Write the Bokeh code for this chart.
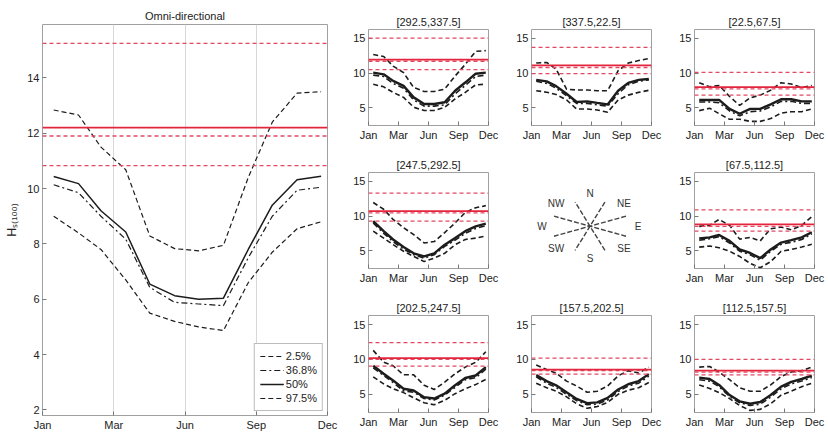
import numpy as np
from bokeh.plotting import figure
from bokeh.models import Span, Legend, LegendItem, FixedTicker, Range1d
from bokeh.layouts import row, column
from bokeh.core.properties import value
from bokeh.embed import file_html
from bokeh.resources import INLINE

# ---------------- data ----------------
days = [15, 46, 74, 105, 135, 166, 196, 227, 258, 288, 319, 349]   # mid-month day of year
month_labels = ["Jan", "Mar", "Jun", "Sep", "Dec"]
quantile_labels = ["2.5%", "36.8%", "50%", "97.5%"]

# Omni-directional
omni_p025 = [9.0, 8.4, 7.8, 6.7, 5.5, 5.2, 5.0, 4.87, 6.6, 7.7, 8.55, 8.8]
omni_p368 = [10.14, 9.85, 9.0, 8.17, 6.43, 5.89, 5.83, 5.77, 7.5, 9.0, 9.94, 10.05]
omni_p50 = [10.44, 10.18, 9.2, 8.43, 6.55, 6.13, 6.0, 6.04, 7.8, 9.4, 10.32, 10.45]
omni_p975 = [12.84, 12.66, 11.5, 10.68, 8.29, 7.83, 7.75, 7.95, 10.4, 12.4, 13.45, 13.5]
omni_red_solid = 12.2
omni_red_dashed = [15.25, 11.9, 10.83]

# [292.5,337.5]
nw_p025 = [8.38, 8.0, 7.19, 6.47, 5.05, 4.57, 4.57, 5.05, 6.24, 7.19, 8.29, 8.38]
nw_p368 = [9.7, 9.5, 8.5, 7.8, 6.1, 5.2, 5.2, 5.4, 7.0, 8.2, 9.5, 9.7]
nw_p50 = [10.05, 9.81, 8.86, 8.14, 6.47, 5.52, 5.52, 5.76, 7.43, 8.62, 9.9, 10.05]
nw_p975 = [12.67, 12.4, 11.0, 10.05, 7.9, 7.33, 7.33, 7.67, 9.57, 11.24, 13.14, 13.24]
nw_red_solid = 11.95
nw_red_dashed = [15.05, 11.7, 10.5]

# [337.5,22.5]
n_p025 = [7.44, 7.22, 6.9, 6.1, 4.78, 4.78, 4.64, 4.33, 6.1, 6.8, 7.2, 7.5]
n_p368 = [8.8, 8.5, 7.8, 6.7, 5.6, 5.6, 5.4, 5.2, 7.0, 8.3, 8.8, 9.0]
n_p50 = [9.0, 8.78, 8.1, 7.0, 5.8, 5.9, 5.67, 5.44, 7.44, 8.56, 9.0, 9.13]
n_p975 = [11.44, 11.53, 10.56, 7.67, 7.53, 7.53, 7.44, 7.44, 10.33, 11.44, 11.8, 12.1]
n_red_solid = 11.1
n_red_dashed = [13.7, 10.8, 9.9]

# [22.5,67.5]
ne_p025 = [4.55, 4.9, 4.1, 3.3, 3.3, 3.0, 3.0, 3.4, 4.2, 4.4, 4.4, 4.8]
ne_p368 = [5.8, 5.8, 5.7, 4.5, 3.8, 4.4, 4.5, 5.1, 5.9, 5.9, 5.6, 5.6]
ne_p50 = [6.1, 6.1, 6.1, 4.8, 4.1, 4.8, 4.8, 5.45, 6.2, 6.2, 5.9, 5.9]
ne_p975 = [8.6, 8.0, 8.2, 6.6, 5.3, 6.4, 6.8, 7.5, 8.6, 8.4, 7.9, 8.2]
ne_red_solid = 7.95
ne_red_dashed = [10.1, 7.7, 6.8]

# [247.5,292.5]
w_p025 = [7.8, 6.8, 5.85, 4.9, 4.15, 3.4, 3.9, 4.6, 5.85, 6.6, 6.8, 7.1]
w_p368 = [9.0, 7.5, 6.3, 5.2, 4.4, 3.9, 4.4, 5.6, 6.5, 7.5, 8.2, 8.6]
w_p50 = [9.27, 7.8, 6.6, 5.5, 4.6, 4.15, 4.6, 5.85, 6.8, 7.8, 8.5, 8.9]
w_p975 = [11.95, 10.98, 9.5, 8.3, 7.3, 6.1, 6.3, 7.6, 9.0, 10.5, 11.2, 11.5]
w_red_solid = 10.7
w_red_dashed = [13.3, 10.45, 9.27]

# [67.5,112.5]
e_p025 = [5.5, 5.65, 5.4, 4.9, 4.15, 3.15, 2.5, 3.4, 4.9, 5.15, 5.5, 5.9]
e_p368 = [6.5, 6.7, 7.0, 6.1, 4.9, 4.4, 3.6, 4.9, 5.9, 6.2, 6.6, 7.4]
e_p50 = [6.75, 6.9, 7.25, 6.4, 5.15, 4.65, 3.9, 5.15, 6.15, 6.5, 6.9, 7.65]
e_p975 = [8.5, 8.65, 9.5, 8.65, 6.65, 6.9, 6.4, 8.15, 8.4, 8.0, 8.65, 9.9]
e_red_solid = 8.8
e_red_dashed = [10.9, 8.5, 7.8]

# [202.5,247.5]
sw_p025 = [7.5, 6.5, 5.8, 5.25, 4.5, 3.8, 3.5, 4.15, 5.1, 5.8, 6.4, 7.15]
sw_p368 = [8.8, 7.7, 6.7, 5.5, 5.3, 4.4, 4.2, 4.9, 6.0, 7.1, 7.4, 8.6]
sw_p50 = [9.1, 7.95, 7.0, 5.8, 5.55, 4.6, 4.4, 5.1, 6.3, 7.35, 7.7, 8.9]
sw_p975 = [11.3, 9.6, 9.1, 7.8, 7.8, 6.3, 5.7, 6.75, 7.95, 8.9, 9.6, 11.1]
sw_red_solid = 10.2
sw_red_dashed = [12.4, 10.0, 9.05]

# [157.5,202.5]
s_p025 = [6.6, 5.95, 5.45, 4.65, 3.65, 3.0, 3.25, 3.85, 5.0, 5.6, 5.95, 6.7]
s_p368 = [7.5, 6.6, 6.0, 5.0, 4.1, 3.5, 3.6, 4.2, 5.4, 6.2, 6.6, 7.6]
s_p50 = [7.75, 6.9, 6.3, 5.3, 4.35, 3.75, 3.85, 4.5, 5.7, 6.45, 6.9, 7.9]
s_p975 = [9.2, 8.55, 8.05, 6.9, 6.2, 5.3, 5.45, 6.2, 7.65, 8.4, 8.05, 8.9]
s_red_solid = 8.55
s_red_dashed = [10.2, 8.4, 7.9]

# [112.5,157.5]
se_p025 = [6.35, 5.85, 5.25, 4.4, 3.4, 2.7, 2.85, 3.65, 4.9, 5.45, 6.1, 6.6]
se_p368 = [7.1, 6.9, 6.1, 4.7, 3.8, 3.4, 3.6, 4.6, 5.8, 6.5, 6.9, 7.4]
se_p50 = [7.4, 7.2, 6.35, 4.9, 4.0, 3.65, 3.9, 4.9, 6.1, 6.8, 7.2, 7.7]
se_p975 = [8.9, 9.0, 8.2, 7.1, 5.95, 5.45, 5.45, 6.35, 7.55, 8.2, 8.4, 8.9]
se_red_solid = 8.4
se_red_dashed = [10.0, 8.2, 7.8]

# compass
compass_labels = ["N", "NE", "E", "SE", "S", "SW", "W", "NW"]
compass_bearings = [0, 45, 90, 135, 180, 225, 270, 315]
sector_boundaries = [22.5, 67.5, 112.5, 157.5]

# ---------------- style ----------------
FONT = "Liberation Sans"
X0, X1 = 1, 357
TICKS = [int(t) for t in np.linspace(X0, X1, 5)]
BLACK = "#1c1c1c"
RED = "#e3263c"
RED_D = "#e24a64"
FRAME = "#a0a0a0"
DASH = "5 3"
DASHDOT = "6 3 2 3"


def style(p, yticks, font_size):
    p.outline_line_color = FRAME
    p.outline_line_width = 1
    p.background_fill_color = "white"
    p.border_fill_color = "white"
    p.xaxis.ticker = FixedTicker(ticks=TICKS)
    p.xaxis.major_label_overrides = {t: lab for t, lab in zip(TICKS, month_labels)}
    p.yaxis.ticker = FixedTicker(ticks=yticks)
    for ax in (p.xaxis[0], p.yaxis[0]):
        ax.axis_line_color = None
        ax.major_tick_in = 4
        ax.major_tick_out = 0
        ax.major_tick_line_color = "#777777"
        ax.minor_tick_line_color = None
        ax.major_label_text_font = FONT
        ax.major_label_text_font_size = font_size
        ax.major_label_text_color = "#222222"
        ax.major_label_standoff = 3
    p.ygrid.grid_line_color = None
    p.title.text_font = FONT
    p.title.text_font_style = "normal"
    p.title.text_color = "#222222"
    p.title.align = "center"


def add_curves(p, p025, p368, p50, p975, lw_d, lw_s):
    r1 = p.line(days, p025, line_color=BLACK, line_width=lw_d, line_dash=DASH)
    r2 = p.line(days, p368, line_color=BLACK, line_width=lw_d, line_dash=DASHDOT)
    r3 = p.line(days, p50, line_color=BLACK, line_width=lw_s)
    r4 = p.line(days, p975, line_color=BLACK, line_width=lw_d, line_dash=DASH)
    return [r1, r2, r3, r4]


def add_red(p, solid, dashed):
    for lv in dashed:
        p.add_layout(Span(location=lv, dimension="width", line_color=RED_D,
                          line_width=1.3, line_dash="4 3"))
    p.add_layout(Span(location=solid, dimension="width", line_color=RED, line_width=1.7))


# ---------------- main panel ----------------
main = figure(width=345, height=433, x_range=Range1d(X0, X1), y_range=Range1d(1.8, 15.93),
              title="Omni-directional", output_backend="svg", toolbar_location=None,
              min_border_left=42, min_border_right=18, min_border_top=24, min_border_bottom=16)
style(main, [2, 4, 6, 8, 10, 12, 14], "11px")
main.title.text_font_size = "11px"
main.title.standoff = 5
main.xgrid.grid_line_color = "#d8d8d8"
main.xgrid.grid_line_width = 1
main.yaxis.axis_label = "Hₛ₍₁₀₀₎"
main.yaxis.axis_label_text_font = FONT
main.yaxis.axis_label_text_font_size = "12.5px"
main.yaxis.axis_label_text_font_style = "normal"
main.yaxis.axis_label_text_color = "#222222"
main.yaxis.axis_label_standoff = 5
add_red(main, omni_red_solid, omni_red_dashed)
rs = add_curves(main, omni_p025, omni_p368, omni_p50, omni_p975, 1.2, 1.5)
legend = Legend(items=[LegendItem(label=l, renderers=[r]) for l, r in zip(quantile_labels, rs)],
                location="bottom_right")
legend.margin = 4
legend.padding = 5
legend.spacing = 0
legend.glyph_width = 24
legend.glyph_height = 14
legend.label_height = 14
legend.label_standoff = 2
legend.label_text_font = FONT
legend.label_text_font_size = "11px"
legend.label_text_color = "#222222"
legend.border_line_color = "#7a7a7a"
legend.border_line_width = 1
legend.background_fill_alpha = 1
main.add_layout(legend)

# ---------------- small panels ----------------
def small(title, p025, p368, p50, p975, red_solid, red_dashed, w, h, br, bb):
    p = figure(width=w, height=h, x_range=Range1d(X0, X1), y_range=Range1d(2.4, 16.3),
               title=title, output_backend="svg", toolbar_location=None,
               min_border_left=23, min_border_right=br, min_border_top=29, min_border_bottom=bb)
    style(p, [5, 10, 15], "11px")
    p.xgrid.grid_line_color = None
    p.title.text_font_size = "11px"
    p.title.standoff = 3
    add_red(p, red_solid, red_dashed)
    add_curves(p, p025, p368, p50, p975, 1.6, 2.4)
    return p


p_nw = small("[292.5,337.5]", nw_p025, nw_p368, nw_p50, nw_p975, nw_red_solid, nw_red_dashed, 163, 143, 20, 17)
p_n = small("[337.5,22.5]", n_p025, n_p368, n_p50, n_p975, n_red_solid, n_red_dashed, 163, 143, 20, 17)
p_ne = small("[22.5,67.5]", ne_p025, ne_p368, ne_p50, ne_p975, ne_red_solid, ne_red_dashed, 157, 143, 14, 17)
p_w = small("[247.5,292.5]", w_p025, w_p368, w_p50, w_p975, w_red_solid, w_red_dashed, 163, 143, 20, 17)
p_e = small("[67.5,112.5]", e_p025, e_p368, e_p50, e_p975, e_red_solid, e_red_dashed, 157, 143, 14, 17)
p_sw = small("[202.5,247.5]", sw_p025, sw_p368, sw_p50, sw_p975, sw_red_solid, sw_red_dashed, 163, 147, 20, 21)
p_s = small("[157.5,202.5]", s_p025, s_p368, s_p50, s_p975, s_red_solid, s_red_dashed, 163, 147, 20, 21)
p_se = small("[112.5,157.5]", se_p025, se_p368, se_p50, se_p975, se_red_solid, se_red_dashed, 157, 147, 14, 21)

# ---------------- compass ----------------
comp = figure(width=163, height=143, x_range=Range1d(-81.5, 81.5), y_range=Range1d(-63, 80),
              output_backend="svg", toolbar_location=None,
              min_border_left=0, min_border_right=0, min_border_top=0, min_border_bottom=0)
comp.axis.visible = False
comp.grid.grid_line_color = None
comp.outline_line_color = None
R_LINE = 39
R_TEXT = 48
ang = np.radians(sector_boundaries)
comp.segment(x0=R_LINE * np.sin(ang), y0=R_LINE * np.cos(ang),
             x1=-R_LINE * np.sin(ang), y1=-R_LINE * np.cos(ang),
             line_color="#444444", line_width=1.4, line_dash="5 2")
bang = np.radians(compass_bearings)
comp.text(x=R_TEXT * np.sin(bang), y=R_TEXT * np.cos(bang), text=compass_labels,
          text_align="center", text_baseline="middle", text_font=value(FONT),
          text_font_size="10px", text_color="#333333")

right = column(row(p_nw, p_n, p_ne), row(p_w, comp, p_e), row(p_sw, p_s, p_se))
layout = row(main, right)

open("out.html", "w").write(file_html(layout, INLINE))
